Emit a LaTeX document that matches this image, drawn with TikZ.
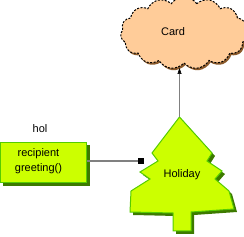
\documentclass[tikz,border=0pt]{standalone}
\usepackage{fontspec}
\setmainfont{Liberation Sans}
\usetikzlibrary{shapes.symbols,arrows.meta}
\definecolor{lime}{HTML}{CCFF00}
\definecolor{limeedge}{HTML}{55CC00}
\definecolor{limeshadow}{HTML}{3D7A00}
\definecolor{peach}{HTML}{FFCC99}
\definecolor{peachshadow}{HTML}{8B5A2B}
\definecolor{linkgray}{HTML}{808080}
\tikzset{
  lbl/.style={font=\fontsize{11}{15}\selectfont, inner sep=0pt, align=center},
  cloudshape/.style={cloud, cloud puffs=15, cloud puff arc=110, aspect=1.8, minimum width=127pt, minimum height=72pt, inner sep=0pt},
}
\begin{document}
\begin{tikzpicture}[x=1pt,y=-1pt]
\useasboundingbox (0,0) rectangle (244,237);
% cloud
\node[cloudshape, fill=peachshadow] (cloudsh) at (185.5,35) {};
\node[cloudshape, fill=peach, draw=black, dash pattern=on 2pt off 1.5pt, line width=1pt] (cloud) at (184,33) {};
\node[lbl] (card) at (173,32) {Card};
% tree
\fill[limeshadow, shift={(3,3)}] (179.5,117) -- (212,153) -- (207,161) -- (222,171) -- (215,179) -- (229,191) -- (234,209) -- (191,212) -- (191,231) -- (173,231) -- (173,213) -- (130,212) -- (131,191) -- (150,179) -- (140,172) -- (158,161) -- (152,153) -- cycle;
\filldraw[fill=lime, draw=limeedge, line width=1pt, line join=miter] (179.5,117) coordinate (apex) -- (212,153) -- (207,161) -- (222,171) -- (215,179) -- (229,191) -- (234,209) -- (191,212) -- (191,231) -- (173,231) -- (173,213) -- (130,212) -- (131,191) -- (150,179) -- (140,172) -- (158,161) -- (152,153) -- cycle;
\node[lbl] (holiday) at (182,175) {Holiday};
% box
\fill[limeshadow] (3,145) rectangle (90,186);
\node[draw=limeedge, fill=lime, line width=1pt, minimum width=86pt, minimum height=40pt, inner sep=0pt] (box) at (43.5,162.5) {};
\node[lbl] (boxtext) at (38.5,161) {recipient\\greeting()};
\node[lbl] (hol) at (40,129) {hol};
% connectors
\coordinate (hend) at (144,161);
\draw[linkgray, line width=1.2pt, -{Square[length=6pt,width=6pt,black]}] (box.east |- hend) -- (hend);
\coordinate (cbottom) at (179.5,68);
\draw[linkgray, line width=0.6pt, -{Triangle[length=6pt,width=4pt,black]}] (apex) -- (cbottom);
\end{tikzpicture}
\end{document}
